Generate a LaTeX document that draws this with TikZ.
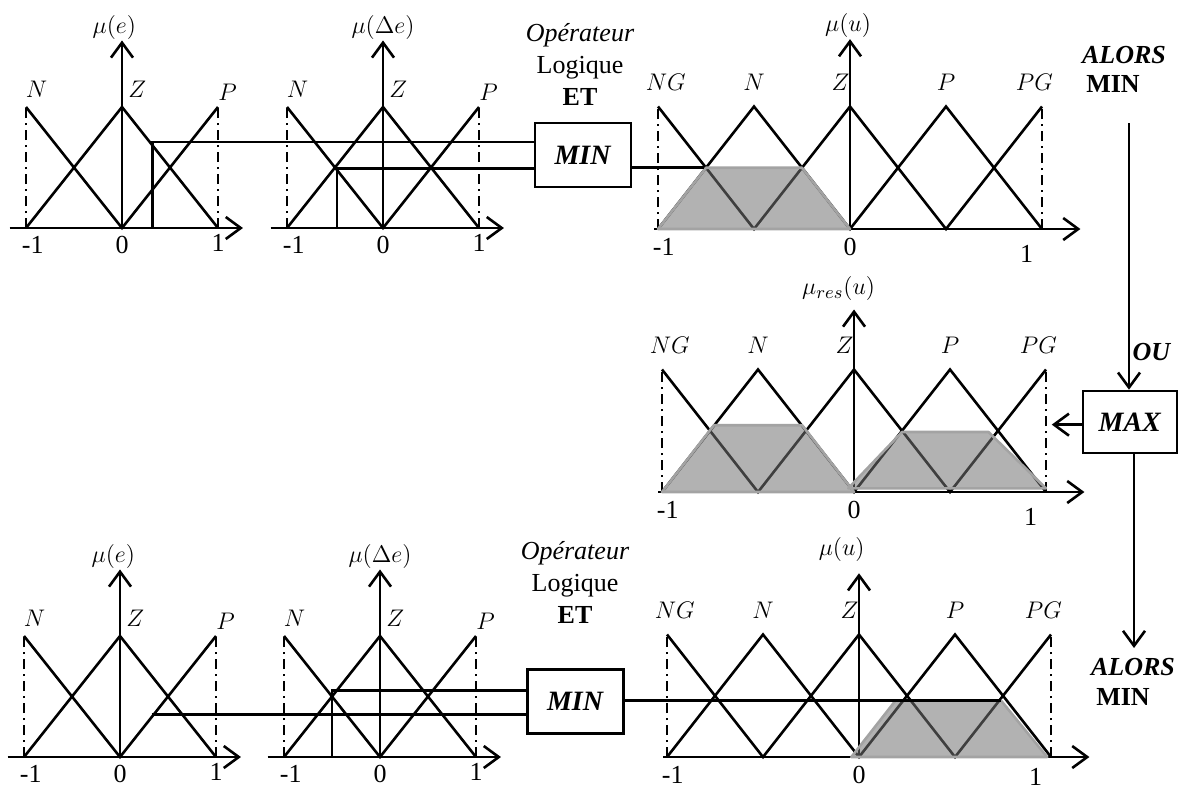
\documentclass[tikz,border=0pt]{standalone}
\usepackage{fontspec}
\setmainfont{Liberation Serif}
\usepackage{tikz}
\usetikzlibrary{arrows.meta}
\definecolor{grisfonce}{HTML}{737373}
\definecolor{grisclair}{HTML}{A3A3A3}

\begin{document}
\begin{tikzpicture}[x=0.5pt,y=-0.5pt,
  trait/.style={line width=1.3pt},
  axe/.style={line width=1.3pt,-{Straight Barb[length=7.5pt,width=11pt]}},
  borne/.style={line width=1.1pt,dash pattern=on 5pt off 2.5pt on 1pt off 2.5pt},
  ombre/.style={fill=grisfonce,fill opacity=0.55,draw=grisclair,line width=1.3pt,line join=round},
  boite/.style={draw,line width=1.3pt,minimum width=48pt,minimum height=32pt,inner sep=0pt,font=\fontsize{14}{16}\selectfont},
  lbl/.style={inner sep=0pt,font=\fontsize{13}{16}\selectfont}]
\useasboundingbox (0,0) rectangle (1186,789);

% fonctions d'appartenance des entrees
\foreach \ox/\oy/\nom/\var/\dx/\ax/\ay in {122/228/ea/e/-0.08/0.32/0.71, 383/228/da/\Delta e/0/-0.48/0.49, 120/757/eb/e/-0.07/0.33/0.35, 380/757/db/\Delta e/0/-0.5/0.55}{
  \begin{scope}[shift={(\ox,\oy)},x=48pt,y=60.5pt]
    \draw[borne] (-1,0)--(-1,1) (1,0)--(1,1);
    \draw[trait] (-1,1)--(0,0)--(1,1) (-1,0)--(0,1)--(1,0);
    \draw[axe] (-1.17,0)--(1.26,0);
    \draw[axe] (0,0)--(0,1.55);
    \node[lbl] (mu-\nom) at (\dx,1.66) {$\mu(\var)$};
    \foreach \lx/\ly/\lt in {-0.89/1.15/N,0.16/1.15/Z,1.1/1.12/P}
      \node[lbl] (\lt-\nom) at (\lx,\ly) {$\lt$};
    \foreach \tx/\ty/\tv/\tn in {-0.93/-0.14/-1/a,0/-0.14/0/b,1/-0.12/1/c}
      \node[lbl] (t\tn-\nom) at (\tx,\ty) {\tv};
    \coordinate (\nom) at (\ax,\ay);
    \coordinate (\nom-0) at (\ax,0);
  \end{scope}}

% fonctions d'appartenance de la sortie
\foreach \ox/\oy/\nom/\var/\dx/\hy/\ly/\uy in {850/229/u1/\mu(u)/-0.01/1.55/1.66/-0.2, 854/492/ur/\mu_{res}(u)/-0.08/1.49/1.66/-0.2, 859/757/u2/\mu(u)/-0.09/1.5/1.69/-0.16}{
  \begin{scope}[shift={(\ox,\oy)},x=96pt,y=61.25pt]
    \draw[borne] (-1,0)--(-1,1) (1,0)--(1,1);
    \draw[trait] (-1,1)--(-0.5,0)--(0,1)--(0.5,0)--(1,1) (-1,0)--(-0.5,1)--(0,0)--(0.5,1)--(1,0);
    \draw[axe] (-1.02,0)--(1.2,0);
    \draw[axe] (0,0)--(0,\hy);
    \node[lbl] (mu-\nom) at (\dx,\ly) {$\var$};
    \foreach \lx/\lt/\ln in {-0.96/NG/ng,-0.5/N/n,-0.05/Z/z,0.5/P/p,0.96/PG/pg}
      \node[lbl] (\ln-\nom) at (\lx,1.2) {$\lt$};
    \foreach \tx/\ty/\tv/\tn in {-0.97/-0.15/-1/a,0/-0.15/0/b,0.92/\uy/1/c}
      \node[lbl] (t\tn-\nom) at (\tx,\ty) {\tv};
  \end{scope}}

% zones activees
\begin{scope}[shift={(850,229)},x=96pt,y=61.25pt]
  \path[ombre] (-1,0)--(-0.75,0.5)--(-0.25,0.5)--(0,0)--cycle;
  \coordinate (ua) at (-0.76,0.5);
\end{scope}
\begin{scope}[shift={(854,492)},x=96pt,y=61.25pt]
  \path[ombre] (-1,0)--(-0.73,0.545)--(-0.27,0.545)--(0,0)--cycle;
  \path[ombre] (-0.03,0.03)--(0.25,0.49)--(0.7,0.49)--(1,0.03)--cycle;
  \coordinate (res) at (1.03,0.55);
\end{scope}
\begin{scope}[shift={(859,757)},x=96pt,y=61.25pt]
  \path[ombre] (-0.04,0)--(0.19,0.46)--(0.74,0.46)--(0.98,0)--cycle;
  \coordinate (ub) at (0.74,0.46);
\end{scope}

% operateurs
\node[boite] (min1) at (583,155) {\textbf{\textit{MIN}}};
\node[boite] (min2) at (575.5,701.5) {\textbf{\textit{MIN}}};
\node[boite,minimum width=47pt,minimum height=31pt] (max) at (1130,422) {\textbf{\textit{MAX}}};
\node[lbl,align=center] (op1) at (580,64) {\textit{Opérateur}\\Logique\\\textbf{ET}};
\node[lbl,align=center] (op2) at (575,582) {\textit{Opérateur}\\Logique\\\textbf{ET}};
\node[lbl] (alors1) at (1124,55) {\textbf{\textit{ALORS}}};
\node[lbl] (imp1) at (1113,84) {\textbf{MIN}};
\node[lbl] (ou) at (1152,352) {\textbf{\textit{OU}}};
\node[lbl] (alors2) at (1133,667) {\textbf{\textit{ALORS}}};
\node[lbl] (imp2) at (1123,697) {\textbf{MIN}};

% liaisons
\draw[trait] (ea-0) -- (ea) -- (ea -| min1.west);
\draw[trait] (da-0) -- (da) -- (da -| min1.west);
\draw[trait] (min1.east |- ua) -- (ua);
\draw[trait] (eb) -- (eb -| min2.west);
\draw[trait] (db-0) -- (db) -- (db -| min2.west);
\draw[trait] (min2.east |- ub) -- (ub);
\coordinate (haut) at (1129,123);
\coordinate (bas) at (1134,648);
\draw[axe] (haut) -- (haut |- max.north);
\draw[axe] (max.west |- res) -- (res);
\draw[axe] (max.south -| bas) -- (bas);
\end{tikzpicture}
\end{document}
